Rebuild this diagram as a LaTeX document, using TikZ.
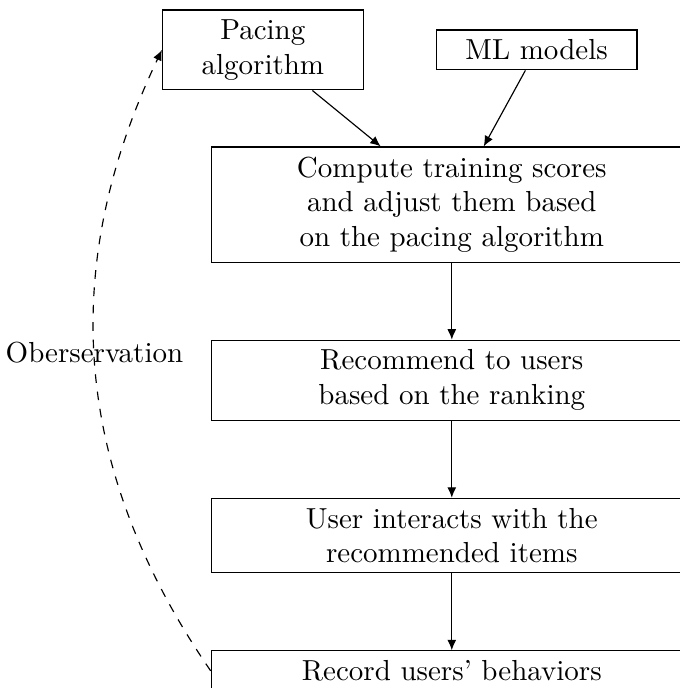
\documentclass[tikz,border=0pt]{standalone}
\usetikzlibrary{positioning,arrows.meta}
\begin{document}
\begin{tikzpicture}[
    bigbox/.style={rectangle, draw, text width=5.6cm, align=center},
    smallbox/.style={rectangle, draw, text width=2.2cm, align=center},
    ->,>={Latex[length=3.6pt,width=3.1pt]},node distance=26.5pt,
    ]
\useasboundingbox (-155.9pt,-166.8pt) rectangle (78.7pt,70.6pt);
%Nodes
\node[bigbox]   (compute)                                          {Compute training scores\\and adjust them based\\on the pacing algorithm};
\node[smallbox] (pacing)    [above=19.3pt of compute, xshift=-65.2pt] {Pacing\\algorithm};
\node[smallbox] (ml)        [right=24.8pt of pacing]               {ML models};
\node[bigbox]   (recommend) [below=of compute]                     {Recommend to users\\based on the ranking};
\node[bigbox]   (interact)  [below=of recommend]                   {User interacts with the\\recommended items};
\node[bigbox]   (record)    [below=of interact]                    {Record users' behaviors};

%Lines
\path
(pacing) edge (compute)
(ml) edge (compute)
(compute) edge (recommend)
(recommend) edge (interact)
(interact) edge (record)
(record.west) edge[dashed, bend left=30] node[pos=0.525]{Oberservation} (pacing.west);
\end{tikzpicture}
\end{document}
